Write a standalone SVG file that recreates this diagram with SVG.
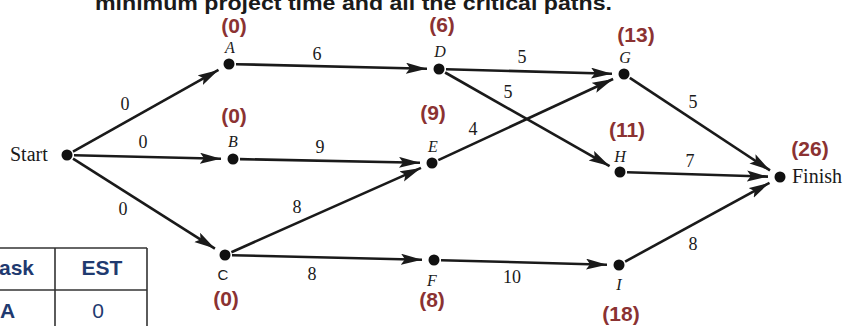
<svg xmlns="http://www.w3.org/2000/svg" width="849" height="326" viewBox="0 0 849 326">
<style>
.edge{stroke:#1a1a1a;stroke-width:2.6;fill:none;marker-end:url(#arr)}
.dot{fill:#111}
.nl{font-family:"Liberation Serif","DejaVu Serif",serif;font-style:italic;font-size:16px;fill:#1a1a1a;text-anchor:middle}
.nlu{font-family:"Liberation Sans","DejaVu Sans",sans-serif;font-size:15px;fill:#1a1a1a;text-anchor:middle}
.est{font-family:"Liberation Sans","DejaVu Sans",sans-serif;font-weight:bold;font-size:21px;fill:#8B3232;text-anchor:middle}
.el{font-family:"Liberation Serif","DejaVu Serif",serif;font-size:18px;fill:#1a1a1a;text-anchor:middle}
.term{font-family:"Liberation Serif","DejaVu Serif",serif;font-size:20px;fill:#1a1a1a}
.tb{font-family:"Liberation Sans","DejaVu Sans",sans-serif;font-weight:bold;font-size:21px;fill:#1F3A70}
.tr{font-family:"Liberation Sans","DejaVu Sans",sans-serif;font-size:21px;fill:#1F3A70}
.grid{stroke:#333;stroke-width:1.6}
</style>
<defs>
<marker id="arr" markerUnits="userSpaceOnUse" markerWidth="24" markerHeight="12" refX="21" refY="5.5" orient="auto">
<path d="M0,0 L21,5.5 L0,11 L4,5.5 z" fill="#1a1a1a"/>
</marker>
</defs>
<rect width="849" height="326" fill="#fff"/>
<text x="95" y="10" textLength="517" lengthAdjust="spacingAndGlyphs" style="font-family:'Liberation Sans','DejaVu Sans',sans-serif;font-weight:bold;font-size:21px;fill:#1a1a1a">minimum project time and all the critical paths.</text>

<g id="connectors">
<line class="edge" x1="73" y1="151.6" x2="218.5" y2="69.9"/>
<line class="edge" x1="74" y1="155.2" x2="221" y2="158.7"/>
<line class="edge" x1="73" y1="158.7" x2="214.9" y2="248.6"/>
<line class="edge" x1="236" y1="64.2" x2="427" y2="68.7"/>
<line class="edge" x1="240" y1="159.1" x2="420" y2="162.8"/>
<line class="edge" x1="231.4" y1="252.2" x2="421" y2="167.9"/>
<line class="edge" x1="232" y1="255.2" x2="422" y2="259.7"/>
<line class="edge" x1="446" y1="69.2" x2="612" y2="73.7"/>
<line class="edge" x1="445.1" y1="72.5" x2="609.6" y2="166.1"/>
<line class="edge" x1="438.3" y1="160.1" x2="613.1" y2="79"/>
<line class="edge" x1="441" y1="260.2" x2="607" y2="264.7"/>
<line class="edge" x1="629.8" y1="77.9" x2="770" y2="170.4"/>
<line class="edge" x1="627" y1="172.2" x2="768" y2="176.6"/>
<line class="edge" x1="625.1" y1="261.6" x2="769.5" y2="182.8"/>
<text class="el" x="125" y="110">0</text>
<text class="el" x="143" y="148">0</text>
<text class="el" x="123" y="215">0</text>
<text class="el" x="317" y="60">6</text>
<text class="el" x="320" y="153">9</text>
<text class="el" x="297" y="213">8</text>
<text class="el" x="312" y="280">8</text>
<text class="el" x="522" y="63">5</text>
<text class="el" x="508" y="98">5</text>
<text class="el" x="473" y="135">4</text>
<text class="el" x="693" y="108">5</text>
<text class="el" x="690" y="167">7</text>
<text class="el" x="512" y="283">10</text>
<text class="el" x="693" y="250">8</text>
</g>

<g id="start"><circle class="dot" cx="67" cy="155" r="5.5"/><text class="term" x="10" y="161">Start</text></g>
<g id="A"><circle class="dot" cx="229" cy="64" r="5.5"/><text class="nl" x="230" y="53">A</text><text class="est" x="234" y="33">(0)</text></g>
<g id="B"><circle class="dot" cx="233" cy="159" r="5.5"/><text class="nl" x="233" y="147">B</text><text class="est" x="234" y="123">(0)</text></g>
<g id="C"><circle class="dot" cx="225" cy="255" r="5.5"/><text class="nlu" x="223" y="280">C</text><text class="est" x="226" y="306">(0)</text></g>
<g id="D"><circle class="dot" cx="439" cy="69" r="5.5"/><text class="nl" x="440" y="57">D</text><text class="est" x="442" y="32">(6)</text></g>
<g id="E"><circle class="dot" cx="432" cy="163" r="5.5"/><text class="nl" x="433" y="152">E</text><text class="est" x="433" y="120">(9)</text></g>
<g id="F"><circle class="dot" cx="434" cy="260" r="5.5"/><text class="nl" x="432" y="286">F</text><text class="est" x="432" y="307">(8)</text></g>
<g id="G"><circle class="dot" cx="624" cy="74" r="5.5"/><text class="nl" x="625" y="63">G</text><text class="est" x="636" y="42">(13)</text></g>
<g id="H"><circle class="dot" cx="620" cy="172" r="5.5"/><text class="nl" x="620" y="162">H</text><text class="est" x="627" y="137">(11)</text></g>
<g id="I"><circle class="dot" cx="619" cy="265" r="5.5"/><text class="nl" x="619" y="290">I</text><text class="est" x="621" y="321">(18)</text></g>
<g id="finish"><circle class="dot" cx="780" cy="177" r="5.5"/><text class="term" x="792" y="183">Finish</text><text class="est" x="810" y="156">(26)</text></g>

<g id="table">
<line class="grid" x1="0" y1="248" x2="147" y2="248"/>
<line class="grid" x1="0" y1="290" x2="147" y2="290"/>
<line class="grid" x1="55" y1="248" x2="55" y2="326"/>
<line class="grid" x1="147" y1="248" x2="147" y2="326"/>
<text class="tb" x="-1" y="275">ask</text>
<text class="tb" x="102" y="275" text-anchor="middle">EST</text>
<text class="tb" x="0" y="318">A</text>
<text class="tr" x="98" y="318" text-anchor="middle">0</text>
</g>
</svg>
